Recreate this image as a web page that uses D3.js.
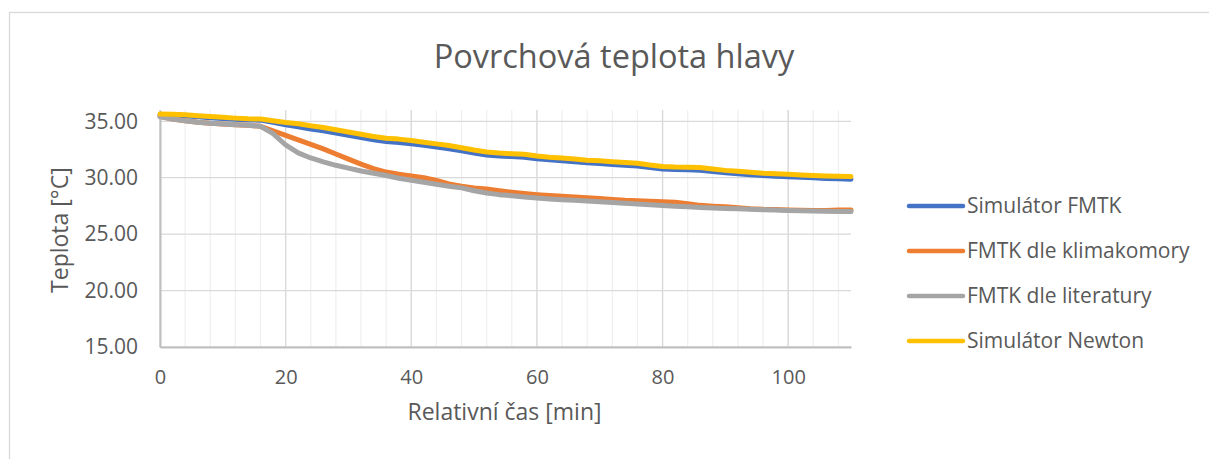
<!DOCTYPE html>
<html>
<head>
<meta charset="utf-8">
<script src="https://cdn.jsdelivr.net/npm/d3@7"></script>
<style>
  body { margin: 0; background: #fff; }
  text { font-family: "Open Sans", sans-serif; fill: #595959; }
</style>
</head>
<body>
<div id="chart"></div>
<script>
// time in minutes
const times = [0, 2, 4, 6, 8, 10, 12, 14, 16, 18, 20, 22, 24, 26, 28, 30, 32, 34, 36, 38,
    40, 42, 44, 46, 48, 50, 52, 54, 56, 58, 60, 62, 64, 66, 68, 70, 72, 74, 76, 78,
    80, 82, 84, 86, 88, 90, 92, 94, 96, 98, 100, 102, 104, 106, 108, 110];

const simFmtk = [35.55, 35.53, 35.48, 35.4, 35.32, 35.25, 35.18, 35.12, 35.1, 34.9,
    34.7, 34.52, 34.32, 34.15, 33.95, 33.75, 33.55, 33.37, 33.2, 33.12,
    33.0, 32.87, 32.72, 32.57, 32.38, 32.18, 32.02, 31.93, 31.87, 31.82,
    31.68, 31.58, 31.5, 31.41, 31.32, 31.26, 31.18, 31.11, 31.04, 30.9,
    30.78, 30.73, 30.7, 30.67, 30.56, 30.44, 30.36, 30.27, 30.2, 30.14,
    30.09, 30.04, 29.99, 29.94, 29.9, 29.87];

const fmtkKlima = [35.45, 35.2, 35.05, 34.92, 34.82, 34.75, 34.7, 34.65, 34.55, 34.15,
    33.75, 33.35, 32.95, 32.55, 32.1, 31.65, 31.2, 30.8, 30.5, 30.32,
    30.15, 30.0, 29.75, 29.45, 29.25, 29.1, 29.0, 28.85, 28.72, 28.6,
    28.5, 28.42, 28.35, 28.3, 28.22, 28.15, 28.08, 28.0, 27.95, 27.92,
    27.88, 27.82, 27.7, 27.55, 27.48, 27.42, 27.35, 27.25, 27.2, 27.18,
    27.15, 27.12, 27.1, 27.1, 27.15, 27.15];

const fmtkLit = [35.4, 35.2, 35.05, 34.92, 34.82, 34.75, 34.7, 34.65, 34.55, 33.9,
    32.9, 32.2, 31.75, 31.4, 31.1, 30.85, 30.6, 30.4, 30.2, 29.95,
    29.78, 29.6, 29.42, 29.25, 29.1, 28.85, 28.65, 28.5, 28.4, 28.3,
    28.2, 28.12, 28.05, 28.0, 27.93, 27.86, 27.8, 27.73, 27.67, 27.6,
    27.53, 27.48, 27.42, 27.37, 27.32, 27.28, 27.24, 27.2, 27.16, 27.13,
    27.1, 27.07, 27.05, 27.02, 27.0, 27.0];

const simNewton = [35.65, 35.63, 35.58, 35.5, 35.42, 35.35, 35.28, 35.22, 35.2, 35.05,
    34.9, 34.78, 34.6, 34.45, 34.25, 34.05, 33.85, 33.65, 33.5, 33.42,
    33.3, 33.15, 33.0, 32.85, 32.65, 32.45, 32.28, 32.18, 32.12, 32.08,
    31.93, 31.82, 31.75, 31.65, 31.55, 31.5, 31.42, 31.35, 31.28, 31.12,
    31.0, 30.95, 30.93, 30.9, 30.78, 30.65, 30.57, 30.48, 30.4, 30.35,
    30.3, 30.25, 30.2, 30.15, 30.12, 30.1];

const seriesNames = ["Simulátor FMTK", "FMTK dle klimakomory", "FMTK dle literatury", "Simulátor Newton"];
const seriesColors = ["#4472C4", "#ED7D31", "#A5A5A5", "#FFC000"];
const seriesValues = [simFmtk, fmtkKlima, fmtkLit, simNewton];

const yTicks = [15, 20, 25, 30, 35];
const xTicks = [0, 20, 40, 60, 80, 100];
const xMinorTicks = d3.range(0, 111, 4);

const W = 1209, H = 459;
const margin = { top: 110, right: 358, bottom: 112, left: 160 };
const width = W - margin.left - margin.right;
const height = H - margin.top - margin.bottom;

const root = d3.select("#chart")
    .append("svg")
    .attr("width", W)
    .attr("height", H);

// chart frame
root.append("rect")
    .attr("x", 9.5)
    .attr("y", 12.5)
    .attr("width", W + 10)
    .attr("height", H + 10)
    .attr("fill", "none")
    .attr("stroke", "#d9d9d9")
    .attr("stroke-width", 1.3);

root.append("text")
    .attr("x", 614)
    .attr("y", 68)
    .attr("text-anchor", "middle")
    .style("font-size", "32.5px")
    .text("Povrchová teplota hlavy");

const svg = root.append("g")
    .attr("transform", `translate(${margin.left},${margin.top})`);

const xScale = d3.scaleLinear()
    .domain([0, 110])
    .range([0, width]);

const yScale = d3.scaleLinear()
    .domain([15, 36])
    .range([height, 0]);

// minor vertical grid
svg.append("g")
    .selectAll("line")
    .data(xMinorTicks)
    .enter()
    .append("line")
    .attr("x1", d => xScale(d)).attr("x2", d => xScale(d))
    .attr("y1", 0).attr("y2", height)
    .attr("stroke", "#f0f0f0")
    .attr("stroke-width", 1.3);

// major vertical grid
svg.append("g")
    .selectAll("line")
    .data(xTicks)
    .enter()
    .append("line")
    .attr("x1", d => xScale(d)).attr("x2", d => xScale(d))
    .attr("y1", 0).attr("y2", height)
    .attr("stroke", "#d9d9d9")
    .attr("stroke-width", 1.3);

// horizontal grid
svg.append("g")
    .selectAll("line")
    .data(yTicks)
    .enter()
    .append("line")
    .attr("x1", 0).attr("x2", width)
    .attr("y1", d => yScale(d)).attr("y2", d => yScale(d))
    .attr("stroke", "#d9d9d9")
    .attr("stroke-width", 1.3);

const xAxis = d3.axisBottom(xScale)
    .tickValues(xTicks)
    .tickSize(0)
    .tickPadding(23);

const yAxis = d3.axisLeft(yScale)
    .tickValues(yTicks)
    .tickSize(0)
    .tickPadding(22)
    .tickFormat(d3.format(".2f"));

const gx = svg.append("g")
    .attr("transform", `translate(0,${height})`)
    .call(xAxis);
gx.select(".domain").attr("stroke", "#bfbfbf").attr("stroke-width", 2);
gx.selectAll("text").style("font-size", "20px").attr("fill", "#595959");

const gy = svg.append("g")
    .call(yAxis);
gy.select(".domain").attr("stroke", "#bfbfbf").attr("stroke-width", 2);
gy.selectAll("text").style("font-size", "21px").attr("fill", "#595959");

svg.append("text")
    .attr("x", xScale(55) - 1)
    .attr("y", height + 73)
    .attr("text-anchor", "middle")
    .style("font-size", "23px")
    .text("Relativní čas [min]");

svg.append("text")
    .attr("transform", "rotate(-90)")
    .attr("x", -(yScale(25) - 4))
    .attr("y", -92)
    .attr("text-anchor", "middle")
    .style("font-size", "23px")
    .text("Teplota [°C]");

const line = d3.line()
    .x((d, i) => xScale(times[i]))
    .y(d => yScale(d));

seriesValues.forEach((vals, i) => {
    svg.append("path")
        .datum(vals)
        .attr("d", line)
        .attr("fill", "none")
        .attr("stroke", seriesColors[i])
        .attr("stroke-width", 5)
        .attr("stroke-linejoin", "round")
        .attr("stroke-linecap", "round");
});

// legend
const legend = root.append("g")
    .attr("transform", "translate(909,206)");

const items = legend.selectAll("g")
    .data(seriesNames)
    .enter()
    .append("g")
    .attr("transform", (d, i) => `translate(0,${i * 45})`);

items.append("line")
    .attr("x1", 0).attr("x2", 54)
    .attr("stroke", (d, i) => seriesColors[i])
    .attr("stroke-width", 4.5)
    .attr("stroke-linecap", "round");

items.append("text")
    .attr("x", 58)
    .attr("dy", "0.35em")
    .style("font-size", "21px")
    .text(d => d);
</script>
</body>
</html>
